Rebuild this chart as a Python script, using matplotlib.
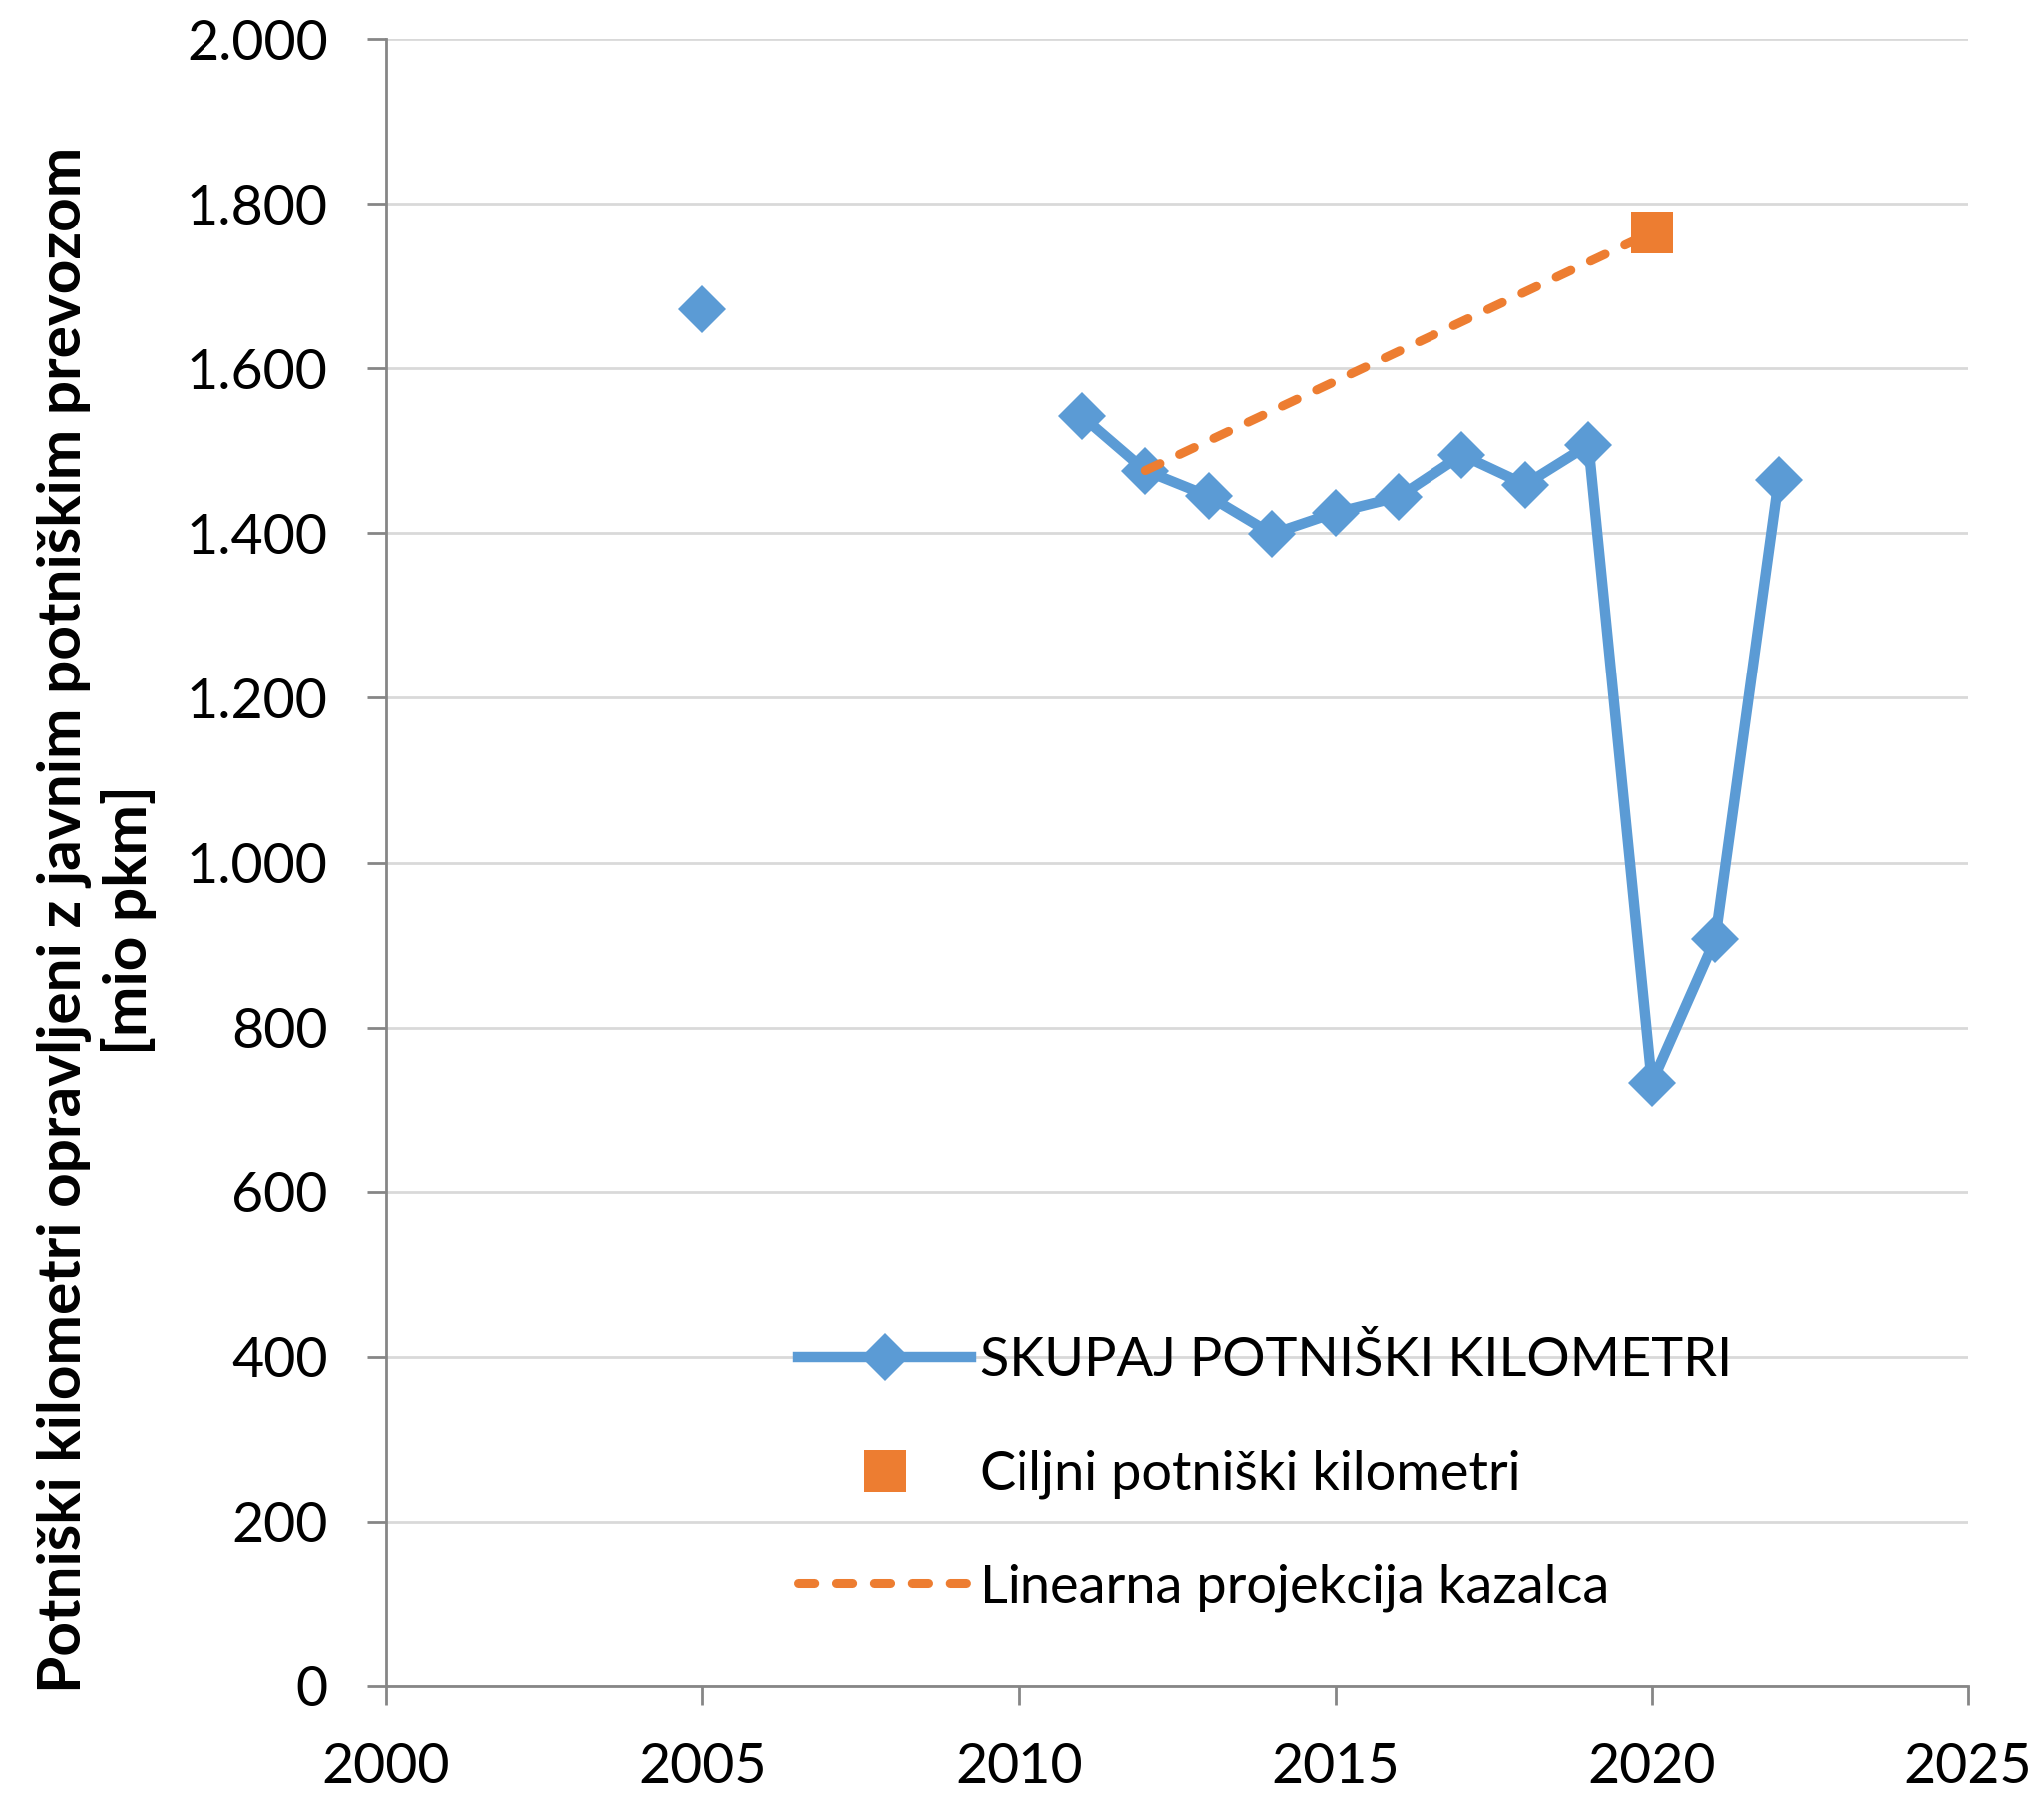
import numpy as np
import matplotlib
matplotlib.use("Agg")
import matplotlib.pyplot as plt
from matplotlib.ticker import FuncFormatter

plt.rcParams['font.family'] = ['Lato', 'DejaVu Sans']

years = [2005, 2006, 2007, 2008, 2009, 2010, 2011, 2012, 2013, 2014, 2015, 2016, 2017, 2018, 2019, 2020, 2021, 2022]
total_pkm = [1672, np.nan, np.nan, np.nan, np.nan, np.nan, 1542, 1476, 1445, 1399, 1425, 1444, 1495, 1459, 1507, 733, 907, 1464]
target_years = [2020]
target_pkm = [1765]
proj_years = [2012, 2020]
proj_pkm = [1476, 1765]

labels = ["SKUPAJ POTNIŠKI KILOMETRI", "Ciljni potniški kilometri", "Linearna projekcija kazalca"]
ylabel = "Potniški kilometri opravljeni z javnim potniškim prevozom\n[mio pkm]"

BLUE = "#5B9BD5"
ORANGE = "#ED7D31"
W, H = 2049, 1800
fig = plt.figure(figsize=(W / 100, H / 100), dpi=100)
ax = fig.add_axes([387 / W, 1 - 1690 / H, (1973 - 387) / W, (1690 - 39) / H])

l1, = ax.plot(years, total_pkm, color=BLUE, lw=7.5, marker='D', markersize=24,
              markeredgewidth=0, zorder=3, solid_joinstyle='miter')
l3, = ax.plot(proj_years, proj_pkm, color=ORANGE, lw=6.5, dashes=(1.8, 2.4),
              dash_capstyle='round', zorder=4)
l2, = ax.plot(target_years, target_pkm, color=ORANGE, lw=0, marker='s', markersize=30,
              markeredgewidth=0, zorder=5)

ax.set_xlim(2000, 2025)
ax.set_ylim(0, 2000)
ax.set_xticks(range(2000, 2026, 5))
ax.set_yticks(range(0, 2001, 200))
ax.yaxis.set_major_formatter(FuncFormatter(lambda v, p: f"{int(v):,}".replace(",", ".")))

ax.grid(axis='y', color='#D9D9D9', lw=2)
ax.set_axisbelow(True)
for s in ['top', 'right']:
    ax.spines[s].set_visible(False)
for s in ['left', 'bottom']:
    ax.spines[s].set_color('#868686')
    ax.spines[s].set_linewidth(2)
ax.tick_params(axis='both', colors='#868686', width=2, length=14, labelsize=40,
               labelcolor='black')
ax.tick_params(axis='y', pad=28)
ax.tick_params(axis='x', pad=26)

fig.text(97 / W, 1 - 922 / H, ylabel, rotation=90, ha='center', va='center',
         multialignment='center', fontsize=43.5, fontweight='bold', linespacing=1.2)

leg = ax.legend([l1, l2, l3], labels, loc='upper left',
                bbox_to_anchor=(800 / W, 1 - 1338 / H), bbox_transform=fig.transFigure,
                frameon=False, fontsize=39, borderpad=0, borderaxespad=0,
                handlelength=3.2, handletextpad=0.16, labelspacing=1.19)

fig.savefig("out.png", dpi=100)
